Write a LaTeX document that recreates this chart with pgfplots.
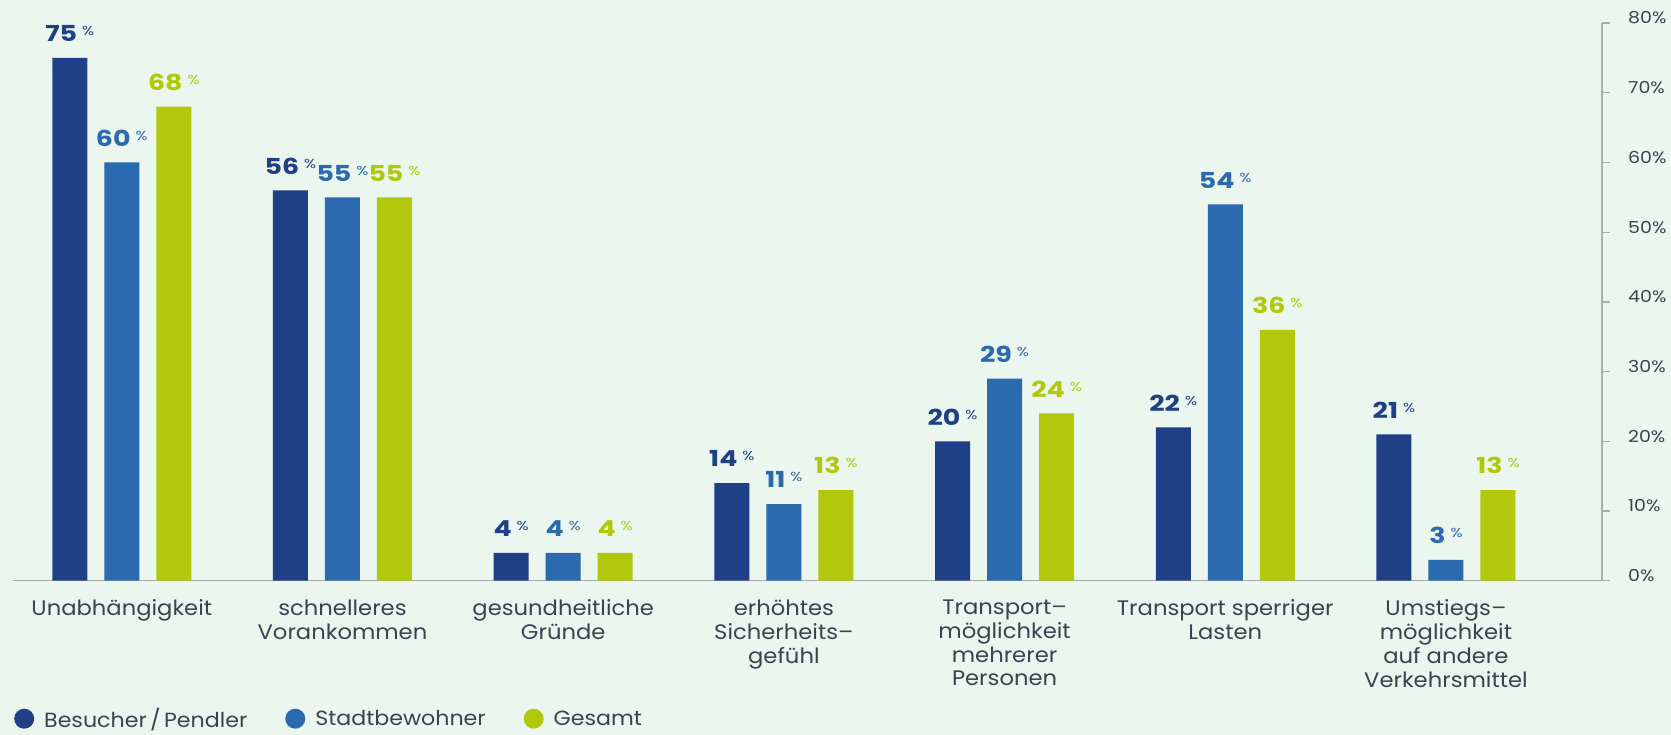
\documentclass[border=0pt]{standalone}
\usepackage{fontspec}
\setmainfont[FakeStretch=1.08]{Poppins}
\newfontfamily\numfont[FakeStretch=1.22]{Poppins}
\newfontfamily\tickfont[FakeStretch=1.15]{Poppins}
\usepackage{pgfplots}
\pgfplotsset{compat=1.18}
\definecolor{bg}{HTML}{EAF6EE}
\definecolor{cA}{HTML}{1F3F86}
\definecolor{cB}{HTML}{2B6AAE}
\definecolor{cC}{HTML}{B2C80C}
\definecolor{axisgray}{HTML}{A9AEAA}
\definecolor{txt}{HTML}{3B4250}
\begin{document}
\begin{tikzpicture}
\fill[bg] (0,0) rectangle (1671pt,735pt);
\path[use as bounding box] (0,0) rectangle (1671pt,735pt);
\begin{axis}[
  at={(13pt,154.3pt)}, anchor=south west,
  scale only axis, width=1589pt, height=557.6pt,
  xmin=-0.493, xmax=6.707, ymin=0, ymax=80,
  axis x line*=bottom, axis y line*=right,
  axis line style={draw=axisgray, line width=1.3pt, -},
  ybar=17pt, bar width=35pt,
  xtick={0,...,6},
  xticklabels={Unabhängigkeit, {schnelleres\\Vorankommen}, {gesundheitliche\\Gründe}, {erhöhtes\\Sicherheits--\\gefühl}, {Transport--\\möglichkeit\\mehrerer\\Personen}, {Transport sperriger\\Lasten}, {Umstiegs--\\möglichkeit\\auf andere\\Verkehrsmittel}},
  x tick style={draw=none},
  y tick style={draw=axisgray, line width=1.3pt},
  tick align=outside, major tick length=8pt,
  xticklabel style={align=center, font=\fontsize{21}{23.8}\selectfont, text=txt, anchor=north, inner sep=0pt, yshift=-11pt},
  ytick={0,10,...,80},
  yticklabel={\pgfmathprintnumber{\tick}\%},
  /pgf/number format/assume math mode=true,
  yticklabel style={anchor=west, inner sep=0pt, xshift=18pt, yshift=5pt, font=\tickfont\fontsize{16.5}{17}\selectfont, text=txt},
  nodes near coords={\textbf{\pgfmathprintnumber{\pgfplotspointmeta}}\hspace{5pt}\raisebox{6pt}{\fontsize{13}{13}\selectfont\%}},
  nodes near coords style={font=\numfont\fontsize{22}{22}\selectfont, anchor=south, inner sep=0pt, yshift=16pt},
  legend columns=3,
  legend image code/.code={\fill[#1] (0pt,0pt) circle (10pt);},
  legend style={draw=none, fill=none, at={(0,0)}, anchor=west, xshift=1pt, yshift=-138pt, inner sep=0pt,
    font=\fontsize{20.5}{21}\selectfont, text=txt,
    nodes={inner sep=0pt},
    /tikz/every even column/.append style={column sep=38pt},
    /tikz/every odd column/.append style={column sep=10pt}},
  clip=false,
]
\addplot[fill=cA, draw=none, every node near coord/.append style={text=cA}] coordinates {(0,75) (1,56) (2,4) (3,14) (4,20) (5,22) (6,21)};
\addplot[fill=cB, draw=none, every node near coord/.append style={text=cB}] coordinates {(0,60) (1,55) (2,4) (3,11) (4,29) (5,54) (6,3)};
\addplot[fill=cC, draw=none, every node near coord/.append style={text=cC}] coordinates {(0,68) (1,55) (2,4) (3,13) (4,24) (5,36) (6,13)};
\legend{Besucher\,/\,Pendler, Stadtbewohner, Gesamt}
\end{axis}
\end{tikzpicture}
\end{document}
